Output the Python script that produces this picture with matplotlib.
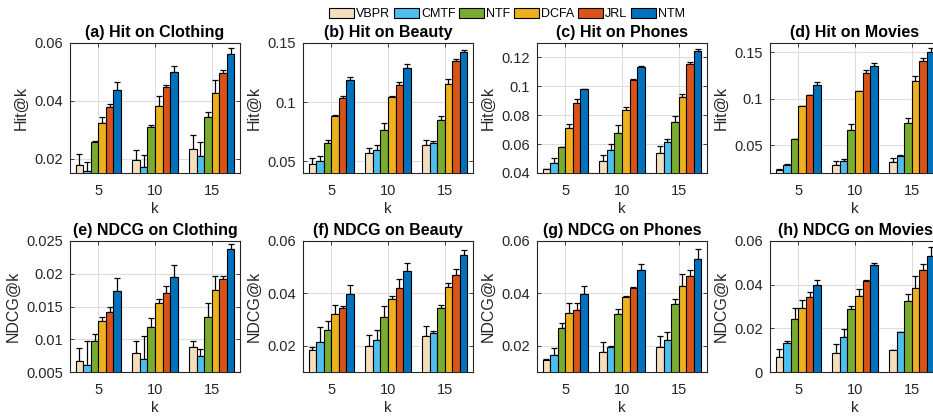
import numpy as np
import matplotlib
matplotlib.use('Agg')
import matplotlib.pyplot as plt

plt.rcParams['font.family'] = ['Liberation Sans', 'DejaVu Sans']

methods = ['VBPR', 'CMTF', 'NTF', 'DCFA', 'JRL', 'NTM']
colors = ['#F3DEBE', '#4DBEEE', '#77AC30', '#EDB120', '#D95319', '#0072BD']
k_values = ['5', '10', '15']

# rows = k (5, 10, 15), columns = methods
hit_clothing = [[0.0178, 0.0157, 0.0259, 0.0323, 0.0378, 0.0436],
                [0.0194, 0.0171, 0.0308, 0.0382, 0.0447, 0.0500],
                [0.0233, 0.0209, 0.0344, 0.0426, 0.0496, 0.0562]]
hit_clothing_err = [[0.0037, 0.0032, 0.0002, 0.0021, 0.0011, 0.0030],
                    [0.0035, 0.0042, 0.0007, 0.0035, 0.0008, 0.0020],
                    [0.0048, 0.0050, 0.0017, 0.0046, 0.0009, 0.0021]]

hit_beauty = [[0.0480, 0.0503, 0.0650, 0.0884, 0.1037, 0.1186],
              [0.0568, 0.0593, 0.0765, 0.1042, 0.1141, 0.1288],
              [0.0633, 0.0658, 0.0847, 0.1150, 0.1350, 0.1424]]
hit_beauty_err = [[0.0048, 0.0042, 0.0028, 0.0003, 0.0014, 0.0029],
                  [0.0042, 0.0040, 0.0057, 0.0006, 0.0026, 0.0034],
                  [0.0048, 0.0017, 0.0037, 0.0045, 0.0012, 0.0017]]

hit_phones = [[0.0425, 0.0471, 0.0577, 0.0710, 0.0887, 0.0979],
              [0.0480, 0.0559, 0.0680, 0.0834, 0.1041, 0.1131],
              [0.0536, 0.0618, 0.0754, 0.0924, 0.1154, 0.1246]]
hit_phones_err = [[0.0005, 0.0035, 0.0003, 0.0028, 0.0026, 0.0005],
                  [0.0044, 0.0039, 0.0049, 0.0026, 0.0010, 0.0007],
                  [0.0050, 0.0016, 0.0041, 0.0026, 0.0012, 0.0014]]

hit_movies = [[0.0236, 0.0283, 0.0561, 0.0919, 0.1038, 0.1153],
              [0.0287, 0.0334, 0.0662, 0.1078, 0.1273, 0.1356],
              [0.0316, 0.0381, 0.0735, 0.1193, 0.1403, 0.1507]]
hit_movies_err = [[0.0011, 0.0015, 0.0004, 0.0003, 0.0004, 0.0022],
                  [0.0047, 0.0022, 0.0065, 0.0007, 0.0032, 0.0028],
                  [0.0047, 0.0014, 0.0057, 0.0054, 0.0032, 0.0036]]

ndcg_clothing = [[0.00668, 0.00612, 0.00974, 0.01286, 0.01413, 0.01740],
                 [0.00791, 0.00699, 0.01184, 0.01546, 0.01699, 0.01954],
                 [0.00888, 0.00750, 0.01342, 0.01745, 0.01913, 0.02378]]
ndcg_clothing_err = [[0.00200, 0.00357, 0.00113, 0.00061, 0.00077, 0.00200],
                     [0.00189, 0.00357, 0.00143, 0.00076, 0.00107, 0.00174],
                     [0.00081, 0.00102, 0.00204, 0.00224, 0.00056, 0.00076]]

ndcg_beauty = [[0.01854, 0.02159, 0.02605, 0.03230, 0.03459, 0.03994],
               [0.02006, 0.02236, 0.03102, 0.03803, 0.04223, 0.04873],
               [0.02389, 0.02490, 0.03459, 0.04236, 0.04694, 0.05484]]
ndcg_beauty_err = [[0.0010, 0.0055, 0.0036, 0.0034, 0.0006, 0.0031],
                   [0.0040, 0.0036, 0.0043, 0.0010, 0.0033, 0.0029],
                   [0.0037, 0.0009, 0.0011, 0.0018, 0.0023, 0.0019]]

ndcg_phones = [[0.0146, 0.0163, 0.0269, 0.0326, 0.0335, 0.0398],
               [0.0177, 0.0197, 0.0321, 0.0388, 0.0420, 0.0489],
               [0.0197, 0.0221, 0.0358, 0.0430, 0.0467, 0.0532]]
ndcg_phones_err = [[0.0004, 0.0028, 0.0018, 0.0036, 0.0027, 0.0030],
                   [0.0038, 0.0001, 0.0018, 0.0001, 0.0006, 0.0022],
                   [0.0040, 0.0032, 0.0022, 0.0045, 0.0021, 0.0036]]

ndcg_movies = [[0.0069, 0.0134, 0.0243, 0.0291, 0.0342, 0.0400],
               [0.0088, 0.0160, 0.0289, 0.0346, 0.0418, 0.0491],
               [0.0100, 0.0183, 0.0323, 0.0386, 0.0466, 0.0532]]
ndcg_movies_err = [[0.0036, 0.0008, 0.0051, 0.0041, 0.0024, 0.0020],
                   [0.0041, 0.0037, 0.0013, 0.0032, 0.0005, 0.0009],
                   [0.0003, 0.0002, 0.0035, 0.0054, 0.0028, 0.0040]]

panels = [
    ('(a) Hit on Clothing', 'Hit@k', hit_clothing, hit_clothing_err, (0.015, 0.06), [0.02, 0.04, 0.06]),
    ('(b) Hit on Beauty', 'Hit@k', hit_beauty, hit_beauty_err, (0.04, 0.15), [0.05, 0.1, 0.15]),
    ('(c) Hit on Phones', 'Hit@k', hit_phones, hit_phones_err, (0.04, 0.13), [0.04, 0.06, 0.08, 0.1, 0.12]),
    ('(d) Hit on Movies', 'Hit@k', hit_movies, hit_movies_err, (0.02, 0.16), [0.05, 0.1, 0.15]),
    ('(e) NDCG on Clothing', 'NDCG@k', ndcg_clothing, ndcg_clothing_err, (0.005, 0.025),
     [0.005, 0.01, 0.015, 0.02, 0.025]),
    ('(f) NDCG on Beauty', 'NDCG@k', ndcg_beauty, ndcg_beauty_err, (0.01, 0.06), [0.02, 0.04, 0.06]),
    ('(g) NDCG on Phones', 'NDCG@k', ndcg_phones, ndcg_phones_err, (0.01, 0.06), [0.02, 0.04, 0.06]),
    ('(h) NDCG on Movies', 'NDCG@k', ndcg_movies, ndcg_movies_err, (0.0, 0.06), [0, 0.02, 0.04, 0.06]),
]

fig = plt.figure(figsize=(9.33, 4.18), dpi=100)

lefts = [70, 303, 537, 770]
W, H = 933, 418
text_col = '#262626'
bw = 0.8 / 6
x = np.arange(1, 4)

handles = []
for i, (title, ylab, vals, errs, ylim, yticks) in enumerate(panels):
    row, col = divmod(i, 4)
    if row == 0:
        top, bot = 43, 173
    else:
        top, bot = 241, 372
    ax = fig.add_axes([lefts[col] / W, 1 - bot / H, 170 / W, (bot - top) / H])
    vals = np.array(vals)
    errs = np.array(errs)
    for m in range(6):
        xm = x + (m - 2.5) * bw
        b = ax.bar(xm, vals[:, m], bw, color=colors[m], edgecolor='black', linewidth=0.8,
                   zorder=3, label=methods[m])
        ax.errorbar(xm, vals[:, m], yerr=[np.zeros(3), errs[:, m]], fmt='none',
                    ecolor='black', elinewidth=0.9, capsize=2.2, capthick=0.9, zorder=2)
        if i == 0:
            handles.append(b)
    ax.set_xlim(0.5, 3.5)
    ax.set_ylim(*ylim)
    ax.set_xticks(x)
    ax.set_xticklabels(k_values)
    ax.set_yticks(yticks)
    ax.set_yticklabels(['%g' % t for t in yticks])
    ax.grid(True, color='#dedede', linewidth=0.8, zorder=0)
    ax.set_axisbelow(True)
    ax.tick_params(direction='in', length=3, width=0.6, top=True, right=True,
                   labelsize=10.5, colors=text_col)
    ax.tick_params(axis='x', pad=8)
    ax.tick_params(axis='y', pad=5)
    for s in ax.spines.values():
        s.set_color(text_col)
        s.set_linewidth(0.8)
    ax.set_title(title, fontsize=11.5, fontweight='bold', pad=4)
    ax.set_xlabel('k', fontsize=11, color=text_col, labelpad=3)
    ax.set_ylabel(ylab, fontsize=11.5, color=text_col, labelpad=4)

fig.legend(handles, methods, loc='center', bbox_to_anchor=(507 / W, 1 - 14 / H), ncol=6,
           frameon=False, fontsize=9, handlelength=2.0, handleheight=0.95,
           handletextpad=0.15, columnspacing=0.3, borderaxespad=0)

fig.savefig('out.png', dpi=100)
